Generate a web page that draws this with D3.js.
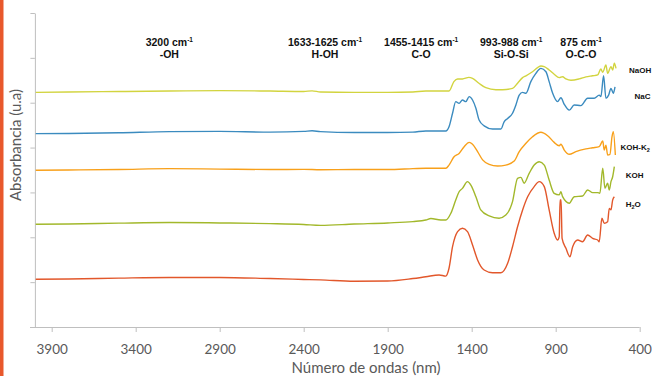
<!DOCTYPE html>
<html lang="es">
<head>
<meta charset="utf-8">
<title>FTIR espectros</title>
<script src="https://cdn.jsdelivr.net/npm/d3@7/dist/d3.min.js"></script>
<style>
  * { margin: 0; padding: 0; box-sizing: border-box; }
  body { background: #fff; overflow: hidden; }
  svg { display: block; }
  .tick-label { font-family: Lato, "Open Sans", sans-serif; font-size: 13.5px; fill: #595959; }
  .axis-title { font-family: Lato, "Open Sans", sans-serif; font-size: 15px; fill: #595959; }
  .band { font-family: "Liberation Sans", Arial, sans-serif; font-size: 10.5px; font-weight: 700; fill: #111; }
  .series-label { font-family: "Liberation Sans", Arial, sans-serif; font-size: 8px; font-weight: 700; fill: #111; }
</style>
</head>
<body>
<svg id="chart" width="652" height="376"></svg>
<script>
// spectra: [wavenumber cm-1, absorbance u.a.]
const naoh = [
  [3995,1.046],[3800,1.048],[3500,1.050],[3200,1.052],[2900,1.054],[2600,1.052],[2400,1.050],
  [2350,1.053],[2300,1.048],[2100,1.046],[1900,1.046],[1750,1.048],[1673,1.052],[1554,1.052],
  [1535,1.052],[1506,1.094],[1484,1.106],[1455,1.106],[1417,1.113],[1395,1.109],[1357,1.087],
  [1316,1.067],[1256,1.058],[1216,1.058],[1157,1.064],[1127,1.087],[1097,1.112],[1077,1.120],
  [1038,1.138],[988,1.164],[968,1.161],[939,1.146],[909,1.127],[879,1.112],[859,1.116],
  [839,1.106],[809,1.100],[760,1.106],[720,1.115],[680,1.120],[650,1.124],[631,1.150],
  [620,1.136],[601,1.168],[591,1.131],[571,1.161],[561,1.146],[551,1.176],[541,1.153]
];
const nacl = [
  [3995,0.862],[3800,0.863],[3500,0.866],[3200,0.871],[2900,0.872],[2600,0.869],[2400,0.872],
  [2350,0.875],[2300,0.871],[2100,0.867],[1900,0.867],[1750,0.869],[1673,0.874],[1554,0.874],
  [1535,0.893],[1514,0.953],[1495,1.005],[1475,0.997],[1455,1.012],[1435,1.005],[1415,1.027],
  [1395,1.012],[1375,0.975],[1356,0.923],[1326,0.897],[1276,0.883],[1226,0.883],[1207,0.915],
  [1186,0.930],[1157,0.953],[1137,0.990],[1117,1.034],[1097,1.046],[1077,1.042],[1048,1.094],
  [1018,1.131],[988,1.153],[958,1.138],[939,1.094],[918,1.042],[889,1.005],[869,1.022],
  [849,0.993],[819,0.967],[790,0.990],[750,0.987],[710,1.020],[671,1.020],[641,1.034],
  [631,1.027],[615,1.120],[601,1.020],[585,1.034],[571,1.064],[557,1.042],[547,1.071]
];
const kohK2co3 = [
  [3995,0.699],[3800,0.700],[3500,0.702],[3200,0.706],[2900,0.704],[2600,0.702],[2400,0.703],
  [2300,0.701],[2100,0.702],[1900,0.702],[1750,0.706],[1673,0.708],[1554,0.708],[1535,0.722],
  [1505,0.759],[1475,0.774],[1445,0.804],[1415,0.823],[1395,0.815],[1365,0.782],[1335,0.745],
  [1296,0.725],[1246,0.718],[1197,0.722],[1147,0.740],[1117,0.782],[1077,0.819],[1038,0.848],
  [988,0.868],[948,0.853],[909,0.823],[879,0.808],[869,0.815],[849,0.789],[819,0.770],
  [780,0.782],[720,0.794],[680,0.799],[641,0.804],[620,0.829],[611,0.789],[601,0.811],
  [591,0.767],[577,0.770],[565,0.848],[557,0.871],[545,0.767]
];
const koh = [
  [3995,0.458],[3800,0.459],[3500,0.463],[3200,0.466],[2900,0.464],[2600,0.461],[2400,0.457],
  [2300,0.453],[2100,0.459],[1900,0.464],[1750,0.470],[1673,0.477],[1643,0.484],[1584,0.477],
  [1554,0.477],[1524,0.507],[1495,0.566],[1475,0.603],[1455,0.618],[1425,0.648],[1405,0.633],
  [1375,0.581],[1346,0.522],[1296,0.495],[1237,0.485],[1197,0.499],[1157,0.559],[1127,0.663],
  [1107,0.667],[1088,0.641],[1058,0.685],[1028,0.722],[998,0.737],[968,0.722],[939,0.655],
  [909,0.596],[879,0.589],[869,0.603],[859,0.581],[819,0.552],[790,0.581],[740,0.584],
  [710,0.611],[680,0.599],[650,0.599],[637,0.596],[620,0.708],[607,0.618],[591,0.641],
  [581,0.611],[571,0.648],[561,0.670],[551,0.715]
];
const h2o = [
  [3995,0.213],[3800,0.214],[3500,0.218],[3200,0.221],[2900,0.221],[2600,0.216],[2400,0.212],
  [2300,0.210],[2100,0.204],[1900,0.205],[1750,0.216],[1673,0.224],[1594,0.232],[1554,0.227],
  [1535,0.262],[1514,0.358],[1484,0.425],[1455,0.440],[1425,0.425],[1395,0.366],[1365,0.299],
  [1326,0.254],[1276,0.242],[1226,0.242],[1186,0.284],[1157,0.358],[1127,0.447],[1097,0.522],
  [1067,0.581],[1028,0.626],[998,0.648],[968,0.626],[939,0.522],[909,0.418],[889,0.388],
  [879,0.403],[874,0.566],[868,0.566],[862,0.395],[839,0.351],[815,0.313],[799,0.358],
  [769,0.388],[740,0.380],[710,0.410],[680,0.395],[650,0.388],[641,0.380],[625,0.485],
  [611,0.462],[591,0.469],[581,0.529],[571,0.522],[561,0.566],[551,0.581]
];

const xTicks = [3900, 3400, 2900, 2400, 1900, 1400, 900, 400];
const yTicks = [0, 0.2, 0.4, 0.6, 0.8, 1.0, 1.2, 1.4];

const bandLines = [
  ["3200 cm", "-OH"],
  ["1633-1625 cm", "H-OH"],
  ["1455-1415 cm", "C-O"],
  ["993-988 cm", "Si-O-Si"],
  ["875 cm", "O-C-O"]
];
// where each band note is centred along the x axis
const bandAt = [3200, 2273, 1701, 1165, 749];

// series label text pieces: [text, isSubscript]; the reference cuts some at the right edge
const seriesNames = [
  [["NaOH", 0]],
  [["NaC", 0]],
  [["KOH-K", 0], ["2", 1]],
  [["KOH", 0]],
  [["H", 0], ["2", 1], ["O", 0]]
];
const seriesData = [naoh, nacl, kohK2co3, koh, h2o];
const seriesColors = ["#d2d43f", "#3b8bbf", "#f8a01a", "#a2b82b", "#e2572b"];
const labelPos = [[629, 72.5], [634.5, 99], [620.5, 150], [625.7, 177.7], [625.7, 206.7]];

const svg = d3.select("#chart");

const x = d3.scaleLinear().domain([4000, 400]).range([34.9, 639.7]);
const y = d3.scaleLinear().domain([0, 1.4]).range([327, 13]);

// left accent bar
svg.append("rect").attr("x", 0).attr("y", 0).attr("width", 3.5).attr("height", 376).attr("fill", "#e8582c");

// y axis (ticks only, no labels)
const yAxis = svg.append("g")
  .attr("transform", "translate(34.9,0)")
  .call(d3.axisLeft(y).tickValues(yTicks).tickSize(4.5).tickSizeOuter(0).tickFormat(""));
yAxis.selectAll("path, line").attr("stroke", "#bfbfbf");
yAxis.selectAll("text").remove();

// x axis
const xAxis = svg.append("g")
  .attr("transform", "translate(0,327)")
  .call(d3.axisBottom(x).tickValues(xTicks).tickSize(5).tickSizeOuter(0).tickFormat(d3.format("d")));
xAxis.select(".domain").remove();
xAxis.selectAll("line").attr("stroke", "#bfbfbf");
xAxis.selectAll("text").attr("class", "tick-label").attr("y", 27).attr("dy", 0);
xAxis.append("line")
  .attr("x1", 30).attr("x2", x(400)).attr("y1", 0.5).attr("y2", 0.5)
  .attr("stroke", "#bfbfbf");

// titles
svg.append("text").attr("class", "axis-title")
  .attr("x", 366).attr("y", 373).attr("text-anchor", "middle")
  .text("Número de ondas (nm)");
svg.append("text").attr("class", "axis-title")
  .attr("transform", "translate(21,145) rotate(-90)")
  .attr("text-anchor", "middle")
  .text("Absorbancia (u.a)");

// spectra
const line = d3.line().x(d => x(d[0])).y(d => y(d[1])).curve(d3.curveMonotoneX);
svg.append("g").selectAll("path")
  .data(seriesData).join("path")
  .attr("d", line)
  .attr("fill", "none")
  .attr("stroke", (d, i) => seriesColors[i])
  .attr("stroke-width", 1.4)
  .attr("stroke-linejoin", "round");

// band annotations
const bands = svg.append("g").selectAll("g")
  .data(bandLines).join("g")
  .attr("transform", (d, i) => `translate(${x(bandAt[i])},0)`);
const bandTop = bands.append("text").attr("class", "band").attr("y", 46).attr("text-anchor", "middle");
bandTop.append("tspan").text(d => d[0]);
bandTop.append("tspan").attr("font-size", "6.5px").attr("dy", -4).text("-1");
bands.append("text").attr("class", "band").attr("y", 57.7).attr("text-anchor", "middle").text(d => d[1]);

// series labels at the right edge
const labels = svg.append("g").selectAll("text")
  .data(seriesNames).join("text")
  .attr("class", "series-label")
  .attr("x", (d, i) => labelPos[i][0])
  .attr("y", (d, i) => labelPos[i][1]);
labels.each(function (parts) {
  const t = d3.select(this);
  let shift = 0;
  parts.forEach(([s, sub]) => {
    const want = sub ? 2 : 0;
    t.append("tspan").attr("font-size", sub ? "5.5px" : null).attr("dy", want - shift).text(s);
    shift = want;
  });
});
</script>
</body>
</html>
